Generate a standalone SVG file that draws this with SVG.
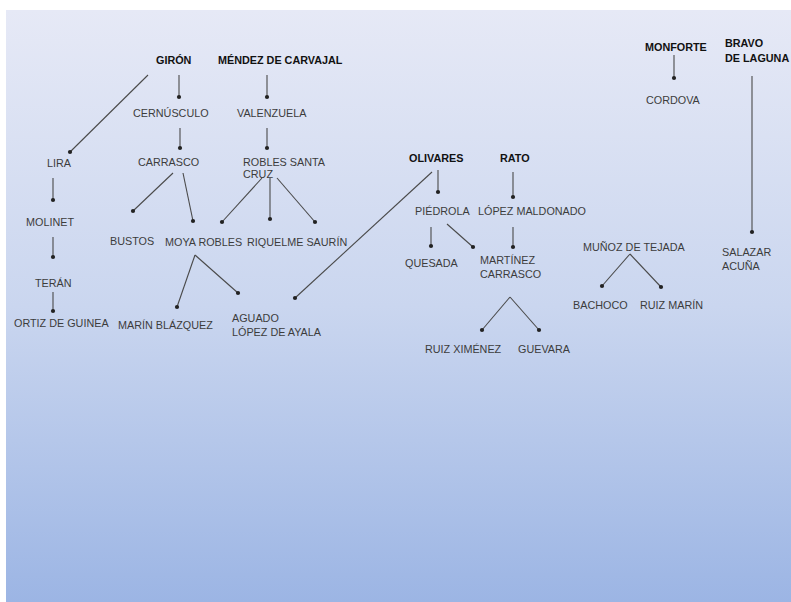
<svg xmlns="http://www.w3.org/2000/svg" width="791" height="602" viewBox="0 0 791 602">
<defs>
<linearGradient id="bg" x1="0" y1="0" x2="0" y2="1">
<stop offset="0" stop-color="#e6e9f6"/>
<stop offset="0.5" stop-color="#cad6ef"/>
<stop offset="1" stop-color="#9cb5e4"/>
</linearGradient>
<marker id="dot" markerUnits="userSpaceOnUse" markerWidth="6" markerHeight="6" refX="3" refY="3" viewBox="0 0 6 6">
<circle cx="3" cy="3" r="2.1" fill="#222"/>
</marker>
<style>
text{font-family:"Liberation Sans",Arial,sans-serif;font-size:10.8px;fill:#3c3c3c}
.b{font-weight:bold;fill:#111}
.c line{stroke:#4a4a4a;stroke-width:1.1;marker-end:url(#dot)}
</style>
</defs>
<rect x="0" y="0" width="791" height="602" fill="#ffffff"/>
<rect x="6" y="10" width="785" height="592" fill="url(#bg)"/>
<g class="c" id="connectors">
<line x1="148" y1="75" x2="70" y2="152"/>
<line x1="179" y1="75" x2="179" y2="97"/>
<line x1="267" y1="75" x2="267" y2="97"/>
<line x1="180" y1="128" x2="180" y2="148"/>
<line x1="267" y1="128" x2="267" y2="148"/>
<line x1="53" y1="178" x2="53" y2="200"/>
<line x1="53" y1="237" x2="53" y2="257"/>
<line x1="53" y1="292" x2="53" y2="311"/>
<line x1="173" y1="173" x2="133" y2="211"/>
<line x1="183" y1="173" x2="193" y2="221"/>
<line x1="262" y1="178" x2="222" y2="222"/>
<line x1="270" y1="178" x2="270" y2="219"/>
<line x1="277" y1="178" x2="315" y2="222"/>
<line x1="195" y1="255" x2="177" y2="307"/>
<line x1="195" y1="255" x2="238" y2="293"/>
<line x1="432" y1="172" x2="295" y2="298"/>
<line x1="438" y1="170" x2="438" y2="192"/>
<line x1="513" y1="172" x2="513" y2="197"/>
<line x1="431" y1="227" x2="431" y2="246"/>
<line x1="447" y1="224" x2="473" y2="247"/>
<line x1="513" y1="227" x2="513" y2="247"/>
<line x1="510" y1="297" x2="482" y2="330"/>
<line x1="510" y1="297" x2="539" y2="330"/>
<line x1="630" y1="254" x2="602" y2="286"/>
<line x1="630" y1="254" x2="661" y2="287"/>
<line x1="674" y1="55" x2="674" y2="78"/>
<line x1="752" y1="76" x2="752" y2="232"/>
</g>
<g id="giron"><text class="b" x="156" y="64">GIRÓN</text></g>
<g id="mendez"><text class="b" x="218" y="64">MÉNDEZ DE CARVAJAL</text></g>
<g id="cernusculo"><text x="133" y="117">CERNÚSCULO</text></g>
<g id="valenzuela"><text x="237" y="117">VALENZUELA</text></g>
<g id="carrasco"><text x="138" y="166">CARRASCO</text></g>
<g id="robles"><text x="243" y="166">ROBLES SANTA</text><text x="243" y="178">CRUZ</text></g>
<g id="lira"><text x="47" y="167">LIRA</text></g>
<g id="molinet"><text x="26" y="226">MOLINET</text></g>
<g id="teran"><text x="35" y="287">TERÁN</text></g>
<g id="ortiz"><text x="14" y="327">ORTIZ DE GUINEA</text></g>
<g id="bustos"><text x="110" y="245">BUSTOS</text></g>
<g id="moya"><text x="165" y="246">MOYA ROBLES</text></g>
<g id="riquelme"><text x="247" y="246">RIQUELME SAURÍN</text></g>
<g id="marin"><text x="118" y="329">MARÍN BLÁZQUEZ</text></g>
<g id="aguado"><text x="232" y="322">AGUADO</text><text x="232" y="336">LÓPEZ DE AYALA</text></g>
<g id="olivares"><text class="b" x="409" y="162">OLIVARES</text></g>
<g id="rato"><text class="b" x="500" y="162">RATO</text></g>
<g id="piedrola"><text x="415" y="215">PIÉDROLA</text></g>
<g id="lopezm"><text x="478" y="215">LÓPEZ MALDONADO</text></g>
<g id="quesada"><text x="405" y="267">QUESADA</text></g>
<g id="martinez"><text x="480" y="264">MARTÍNEZ</text><text x="480" y="278">CARRASCO</text></g>
<g id="ruizx"><text x="425" y="353">RUIZ XIMÉNEZ</text></g>
<g id="guevara"><text x="518" y="353">GUEVARA</text></g>
<g id="munoz"><text x="583" y="251">MUÑOZ DE TEJADA</text></g>
<g id="bachoco"><text x="573" y="309">BACHOCO</text></g>
<g id="ruizm"><text x="640" y="309">RUIZ MARÍN</text></g>
<g id="salazar"><text x="722" y="256">SALAZAR</text><text x="722" y="270">ACUÑA</text></g>
<g id="monforte"><text class="b" x="645" y="51">MONFORTE</text></g>
<g id="bravo"><text class="b" x="725" y="47">BRAVO</text><text class="b" x="725" y="62">DE LAGUNA</text></g>
<g id="cordova"><text x="646" y="104">CORDOVA</text></g>
</svg>
